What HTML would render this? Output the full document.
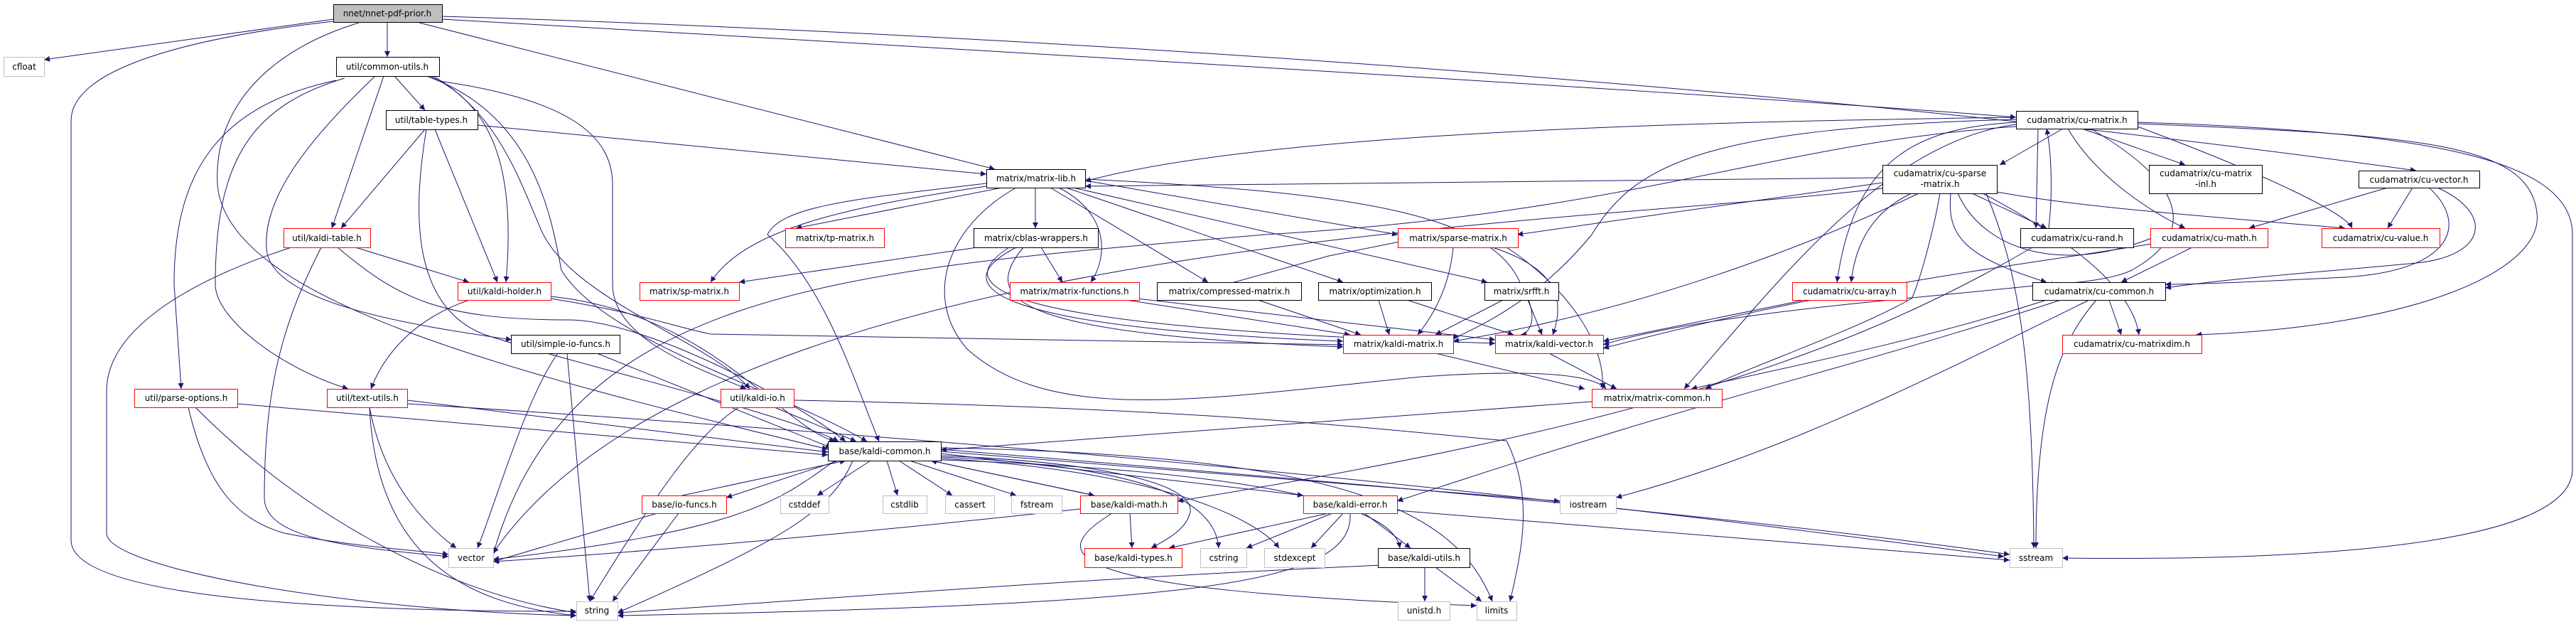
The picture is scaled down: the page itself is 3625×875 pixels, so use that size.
<!DOCTYPE html>
<html><head><meta charset="utf-8"><style>
html,body{margin:0;padding:0;background:#fff;}
svg{display:block}
text{font-family:"DejaVu Sans","Liberation Sans",sans-serif;font-size:12px;fill:#000;text-anchor:middle}
.e{fill:none;stroke:#191970;stroke-width:1}
</style></head><body>
<svg width="3625" height="875" viewBox="0 0 3625 875" xmlns="http://www.w3.org/2000/svg">
<defs><marker id="a" viewBox="0 0 10 10" refX="10" refY="5" markerWidth="9" markerHeight="8" orient="auto" markerUnits="userSpaceOnUse"><path d="M0,0L10,5L0,10z" fill="#191970"/></marker></defs>
<g class="e" marker-end="url(#a)">
<path d="M469,27 L62,84"/>
<path d="M469,30 C250,55 100,100 100,170 L100,760 C100,820 300,860 811,860"/>
<path d="M505,32 C380,70 300,150 306,260 C320,420 700,520 1165,632"/>
<path d="M545,31 L545,80"/>
<path d="M590,32 L1400,238"/>
<path d="M622,23 C1200,40 2400,100 3400,240"/>
<path d="M622,27 C1200,60 2400,130 2837,165"/>
<path d="M555,107 L598,155"/>
<path d="M540,107 L467,321"/>
<path d="M605,107 C700,150 725,250 712,397"/>
<path d="M618,114 C800,140 862,190 862,260 L862,400 C862,480 990,520 1050,547"/>
<path d="M473,113 C300,150 245,250 245,400 L255,547"/>
<path d="M485,110 C350,150 303,230 303,400 C303,450 400,520 490,547"/>
<path d="M528,107 C430,200 370,280 375,350 C380,430 600,460 720,478"/>
<path d="M600,107 C750,160 775,300 790,380 C850,480 1100,550 1220,621"/>
<path d="M610,107 C700,160 730,250 760,320 C800,420 1000,480 1055,547"/>
<path d="M598,182 L480,321"/>
<path d="M612,182 L700,397"/>
<path d="M672,176 L1388,245"/>
<path d="M600,182 C580,300 580,430 680,470 C800,510 1100,580 1180,621"/>
<path d="M500,348 L660,397"/>
<path d="M410,348 C250,400 150,470 150,550 L150,750 C150,800 500,860 811,866"/>
<path d="M452,348 C400,450 372,540 372,700 C372,760 500,770 631,783"/>
<path d="M475,348 C560,420 620,450 800,450 C900,450 1100,550 1190,621"/>
<path d="M660,422 C580,450 540,500 522,547"/>
<path d="M775,417 C1000,440 1100,600 1175,621"/>
<path d="M775,420 C900,440 950,460 1000,470 L1890,485"/>
<path d="M785,497 C740,560 700,700 672,771"/>
<path d="M798,497 L830,846"/>
<path d="M840,497 L1170,630"/>
<path d="M334,568 L1165,640"/>
<path d="M265,573 C290,680 330,730 400,750 C500,770 600,775 631,780"/>
<path d="M275,573 C400,700 600,830 811,862"/>
<path d="M573,563 L1165,636"/>
<path d="M520,573 C540,680 600,740 642,771"/>
<path d="M520,573 C530,780 650,850 811,866"/>
<path d="M573,568 C1400,620 2050,680 2820,783"/>
<path d="M1090,573 L1205,621"/>
<path d="M1117,563 C1700,575 1900,600 2120,620 C2160,700 2140,780 2125,846"/>
<path d="M1040,573 C980,610 920,700 830,846"/>
<path d="M925,722 L694,790"/>
<path d="M955,722 L862,846"/>
<path d="M960,697 L1190,648"/>
<path d="M1180,648 L1022,700"/>
<path d="M1175,648 C1100,700 1060,745 694,787"/>
<path d="M1200,648 C1170,720 1100,760 869,862"/>
<path d="M1225,648 L1150,697"/>
<path d="M1248,648 L1263,697"/>
<path d="M1265,648 L1340,697"/>
<path d="M1280,648 L1430,697"/>
<path d="M1310,648 L1540,697"/>
<path d="M1324,638 L1834,697"/>
<path d="M1324,641 C1550,650 1680,680 1675,720 C1670,745 1640,760 1620,771"/>
<path d="M1324,643 C1600,655 1710,700 1715,771"/>
<path d="M1324,645 C1600,660 1760,720 1800,771"/>
<path d="M1324,647 C1700,660 1960,700 1970,771"/>
<path d="M1324,635 L2195,705"/>
<path d="M1324,632 C1900,680 2400,720 2828,780"/>
<path d="M1324,630 C1900,640 2050,720 2100,846"/>
<path d="M1540,697 L1310,648"/>
<path d="M1590,722 L1593,771"/>
<path d="M1565,722 C1470,780 1480,830 2078,852"/>
<path d="M1520,716 C1300,740 1000,770 694,790"/>
<path d="M1870,722 L1645,771"/>
<path d="M1875,722 L1754,771"/>
<path d="M1890,722 L1845,771"/>
<path d="M1920,722 L1985,771"/>
<path d="M1966,718 L2828,788"/>
<path d="M1900,722 C1905,820 1700,850 869,866"/>
<path d="M1945,795 C1500,815 1200,840 869,862"/>
<path d="M2005,798 L2005,846"/>
<path d="M2020,798 L2085,846"/>
<path d="M1410,264 L1120,321"/>
<path d="M1457,264 L1457,321"/>
<path d="M1490,264 C1560,300 1560,360 1535,397"/>
<path d="M1478,264 L1700,397"/>
<path d="M1500,264 L1890,397"/>
<path d="M1510,264 L2093,397"/>
<path d="M1527,254 L1967,330"/>
<path d="M1388,258 C1200,280 1100,290 1080,330 C1160,400 1200,530 1237,621"/>
<path d="M1388,262 C1200,290 1050,320 1000,397"/>
<path d="M1527,252 C1900,270 2100,300 2140,400 C2170,450 2150,470 2140,471"/>
<path d="M1430,264 C1330,320 1300,420 1360,490 C1480,600 1700,560 2000,530 C2150,520 2240,525 2260,547"/>
<path d="M1375,348 L1040,397"/>
<path d="M1465,348 L1495,397"/>
<path d="M1430,348 C1330,400 1380,460 1890,480"/>
<path d="M1420,348 C1340,400 1370,460 2104,483"/>
<path d="M1440,348 C1380,420 1420,470 1890,488"/>
<path d="M1585,422 L1900,471"/>
<path d="M1600,420 L2104,478"/>
<path d="M1770,422 L1915,471"/>
<path d="M1940,422 L1955,471"/>
<path d="M1980,422 L2130,471"/>
<path d="M2045,348 C2040,400 2020,440 1995,471"/>
<path d="M2100,348 C2200,380 2200,430 2185,471"/>
<path d="M2120,348 C2200,400 2260,480 2255,547"/>
<path d="M1970,340 L1870,360 L1690,410"/>
<path d="M2115,422 L2020,471"/>
<path d="M2150,422 L2170,471"/>
<path d="M2020,497 L2230,547"/>
<path d="M2180,497 L2275,547"/>
<path d="M2240,565 L1324,633"/>
<path d="M2903,181 L2814,232"/>
<path d="M2868,181 L2865,321"/>
<path d="M2883,321 C2888,280 2888,220 2880,181"/>
<path d="M2930,181 L3075,232"/>
<path d="M2910,181 C2950,250 3030,300 3075,321"/>
<path d="M2940,180 C3080,260 3090,330 3000,380 C2970,395 2900,400 2880,400"/>
<path d="M3008,178 C3200,250 3300,300 3310,321"/>
<path d="M3008,174 C3400,190 3560,200 3570,300 C3580,380 3400,460 3090,471"/>
<path d="M3008,172 C3400,185 3620,220 3620,330 L3620,660 C3620,760 3300,790 2902,785"/>
<path d="M2837,172 C2700,180 2610,220 2585,397"/>
<path d="M2837,175 C2650,200 2500,400 2370,547"/>
<path d="M2837,168 C2400,180 2300,230 2240,330 C2150,440 2050,470 2045,478"/>
<path d="M2837,165 C2500,170 1800,180 1527,255"/>
<path d="M2837,178 C2500,200 2300,300 1780,330 C1200,380 800,400 694,780"/>
<path d="M2649,257 L2135,330"/>
<path d="M2649,250 L1527,262"/>
<path d="M2690,272 C2630,300 2610,350 2605,397"/>
<path d="M2700,272 C2600,320 2350,430 2045,480"/>
<path d="M2730,272 C2720,330 2700,400 2690,420 C2600,470 2450,520 2400,547"/>
<path d="M2775,272 L2880,321"/>
<path d="M2745,272 C2740,330 2760,360 2880,397"/>
<path d="M2755,272 C2790,350 2900,390 3040,330"/>
<path d="M2810,270 C2920,290 3050,300 3300,321"/>
<path d="M2790,272 C2900,330 3000,400 3010,471"/>
<path d="M2795,272 C2840,380 2860,500 2862,771"/>
<path d="M2649,265 C2200,320 1000,330 694,778"/>
<path d="M2860,348 C2600,500 2300,600 1657,705"/>
<path d="M2540,422 L2256,480"/>
<path d="M2880,400 C2700,420 2400,440 2256,485"/>
<path d="M2880,422 C2700,480 2500,520 2380,547"/>
<path d="M2900,422 C2600,520 2400,560 1966,705"/>
<path d="M2940,422 C2700,540 2500,640 2274,700"/>
<path d="M2950,422 C2900,480 2865,560 2865,771"/>
<path d="M2968,422 L2985,471"/>
<path d="M3085,348 L2985,397"/>
<path d="M3028,343 C2800,380 2600,400 2256,490"/>
<path d="M3360,264 L3165,321"/>
<path d="M3395,264 L3360,321"/>
<path d="M3418,264 C3470,310 3460,380 3300,390 C3200,395 3100,400 3047,400"/>
<path d="M3430,264 C3510,300 3500,360 3400,370 C3300,380 3150,390 3047,405"/>
</g>
<g stroke-width="1">
<rect x="469.5" y="6.5" width="153" height="25" fill="#bfbfbf" stroke="#000"/>
<rect x="5.5" y="80.5" width="57" height="27" fill="#fff" stroke="#bfbfbf"/>
<rect x="473.5" y="80.5" width="145" height="27" fill="#fff" stroke="#000"/>
<rect x="543.5" y="155.5" width="129" height="27" fill="#fff" stroke="#000"/>
<rect x="399.5" y="321.5" width="122" height="27" fill="#fff" stroke="#f00"/>
<rect x="644.5" y="397.5" width="131" height="25" fill="#fff" stroke="#f00"/>
<rect x="719.5" y="471.5" width="153" height="26" fill="#fff" stroke="#000"/>
<rect x="189.5" y="547.5" width="145" height="26" fill="#fff" stroke="#f00"/>
<rect x="460.5" y="547.5" width="113" height="26" fill="#fff" stroke="#f00"/>
<rect x="903.5" y="697.5" width="119" height="25" fill="#fff" stroke="#f00"/>
<rect x="631.5" y="771.5" width="63" height="27" fill="#fff" stroke="#bfbfbf"/>
<rect x="811.5" y="846.5" width="58" height="26" fill="#fff" stroke="#bfbfbf"/>
<rect x="900.5" y="397.5" width="140" height="25" fill="#fff" stroke="#f00"/>
<rect x="1388.5" y="238.5" width="139" height="26" fill="#fff" stroke="#000"/>
<rect x="1105.5" y="321.5" width="139" height="27" fill="#fff" stroke="#f00"/>
<rect x="1370.5" y="321.5" width="175" height="27" fill="#fff" stroke="#000"/>
<rect x="1421.5" y="397.5" width="182" height="25" fill="#fff" stroke="#f00"/>
<rect x="1628.5" y="397.5" width="203" height="25" fill="#fff" stroke="#000"/>
<rect x="1855.5" y="397.5" width="159" height="25" fill="#fff" stroke="#000"/>
<rect x="1890.5" y="471.5" width="155" height="26" fill="#fff" stroke="#f00"/>
<rect x="1014.5" y="547.5" width="103" height="26" fill="#fff" stroke="#f00"/>
<rect x="1165.5" y="621.5" width="159" height="27" fill="#fff" stroke="#000"/>
<rect x="1098.5" y="697.5" width="68" height="25" fill="#fff" stroke="#bfbfbf"/>
<rect x="1242.5" y="697.5" width="62" height="25" fill="#fff" stroke="#bfbfbf"/>
<rect x="1330.5" y="697.5" width="69" height="25" fill="#fff" stroke="#bfbfbf"/>
<rect x="1423.5" y="697.5" width="71" height="25" fill="#fff" stroke="#bfbfbf"/>
<rect x="1520.5" y="697.5" width="137" height="25" fill="#fff" stroke="#f00"/>
<rect x="1834.5" y="697.5" width="132" height="25" fill="#fff" stroke="#f00"/>
<rect x="1526.5" y="771.5" width="137" height="27" fill="#fff" stroke="#f00"/>
<rect x="1689.5" y="771.5" width="65" height="27" fill="#fff" stroke="#bfbfbf"/>
<rect x="1779.5" y="771.5" width="85" height="27" fill="#fff" stroke="#bfbfbf"/>
<rect x="1939.5" y="771.5" width="129" height="27" fill="#fff" stroke="#000"/>
<rect x="1967.5" y="846.5" width="73" height="26" fill="#fff" stroke="#bfbfbf"/>
<rect x="2837.5" y="156.5" width="171" height="25" fill="#fff" stroke="#000"/>
<rect x="2649.5" y="232.5" width="161" height="40" fill="#fff" stroke="#000"/>
<rect x="2843.5" y="321.5" width="159" height="27" fill="#fff" stroke="#000"/>
<rect x="2522.5" y="397.5" width="161" height="25" fill="#fff" stroke="#f00"/>
<rect x="2860.5" y="397.5" width="187" height="25" fill="#fff" stroke="#000"/>
<rect x="2902.5" y="471.5" width="196" height="26" fill="#fff" stroke="#f00"/>
<rect x="1967.5" y="321.5" width="169" height="27" fill="#fff" stroke="#f00"/>
<rect x="2089.5" y="397.5" width="104" height="25" fill="#fff" stroke="#000"/>
<rect x="2104.5" y="471.5" width="152" height="26" fill="#fff" stroke="#f00"/>
<rect x="2240.5" y="547.5" width="183" height="26" fill="#fff" stroke="#f00"/>
<rect x="2195.5" y="697.5" width="79" height="25" fill="#fff" stroke="#bfbfbf"/>
<rect x="2828.5" y="771.5" width="74" height="27" fill="#fff" stroke="#bfbfbf"/>
<rect x="2078.5" y="846.5" width="56" height="26" fill="#fff" stroke="#bfbfbf"/>
<rect x="3024.5" y="232.5" width="159" height="40" fill="#fff" stroke="#000"/>
<rect x="3319.5" y="240.5" width="170" height="24" fill="#fff" stroke="#000"/>
<rect x="3026.5" y="321.5" width="165" height="27" fill="#fff" stroke="#f00"/>
<rect x="3267.5" y="321.5" width="166" height="27" fill="#fff" stroke="#f00"/>
</g>
<g>
<text x="545" y="23">nnet/nnet-pdf-prior.h</text>
<text x="34" y="98">cfloat</text>
<text x="545" y="98">util/common-utils.h</text>
<text x="607" y="173">util/table-types.h</text>
<text x="460" y="339">util/kaldi-table.h</text>
<text x="710" y="414">util/kaldi-holder.h</text>
<text x="796" y="488">util/simple-io-funcs.h</text>
<text x="262" y="564">util/parse-options.h</text>
<text x="517" y="564">util/text-utils.h</text>
<text x="963" y="714">base/io-funcs.h</text>
<text x="663" y="789">vector</text>
<text x="840" y="863">string</text>
<text x="970" y="414">matrix/sp-matrix.h</text>
<text x="1458" y="255">matrix/matrix-lib.h</text>
<text x="1175" y="339">matrix/tp-matrix.h</text>
<text x="1458" y="339">matrix/cblas-wrappers.h</text>
<text x="1512" y="414">matrix/matrix-functions.h</text>
<text x="1730" y="414">matrix/compressed-matrix.h</text>
<text x="1935" y="414">matrix/optimization.h</text>
<text x="1968" y="488">matrix/kaldi-matrix.h</text>
<text x="1066" y="564">util/kaldi-io.h</text>
<text x="1245" y="639">base/kaldi-common.h</text>
<text x="1132" y="714">cstddef</text>
<text x="1273" y="714">cstdlib</text>
<text x="1365" y="714">cassert</text>
<text x="1459" y="714">fstream</text>
<text x="1589" y="714">base/kaldi-math.h</text>
<text x="1900" y="714">base/kaldi-error.h</text>
<text x="1595" y="789">base/kaldi-types.h</text>
<text x="1722" y="789">cstring</text>
<text x="1822" y="789">stdexcept</text>
<text x="2004" y="789">base/kaldi-utils.h</text>
<text x="2004" y="863">unistd.h</text>
<text x="2923" y="173">cudamatrix/cu-matrix.h</text>
<text x="2730" y="248">cudamatrix/cu-sparse</text>
<text x="2730" y="263">-matrix.h</text>
<text x="2923" y="339">cudamatrix/cu-rand.h</text>
<text x="2603" y="414">cudamatrix/cu-array.h</text>
<text x="2954" y="414">cudamatrix/cu-common.h</text>
<text x="3000" y="488">cudamatrix/cu-matrixdim.h</text>
<text x="2052" y="339">matrix/sparse-matrix.h</text>
<text x="2141" y="414">matrix/srfft.h</text>
<text x="2180" y="488">matrix/kaldi-vector.h</text>
<text x="2332" y="564">matrix/matrix-common.h</text>
<text x="2235" y="714">iostream</text>
<text x="2865" y="789">sstream</text>
<text x="2106" y="863">limits</text>
<text x="3104" y="248">cudamatrix/cu-matrix</text>
<text x="3104" y="263">-inl.h</text>
<text x="3404" y="257">cudamatrix/cu-vector.h</text>
<text x="3109" y="339">cudamatrix/cu-math.h</text>
<text x="3350" y="339">cudamatrix/cu-value.h</text>
</g>
</svg>
</body></html>
